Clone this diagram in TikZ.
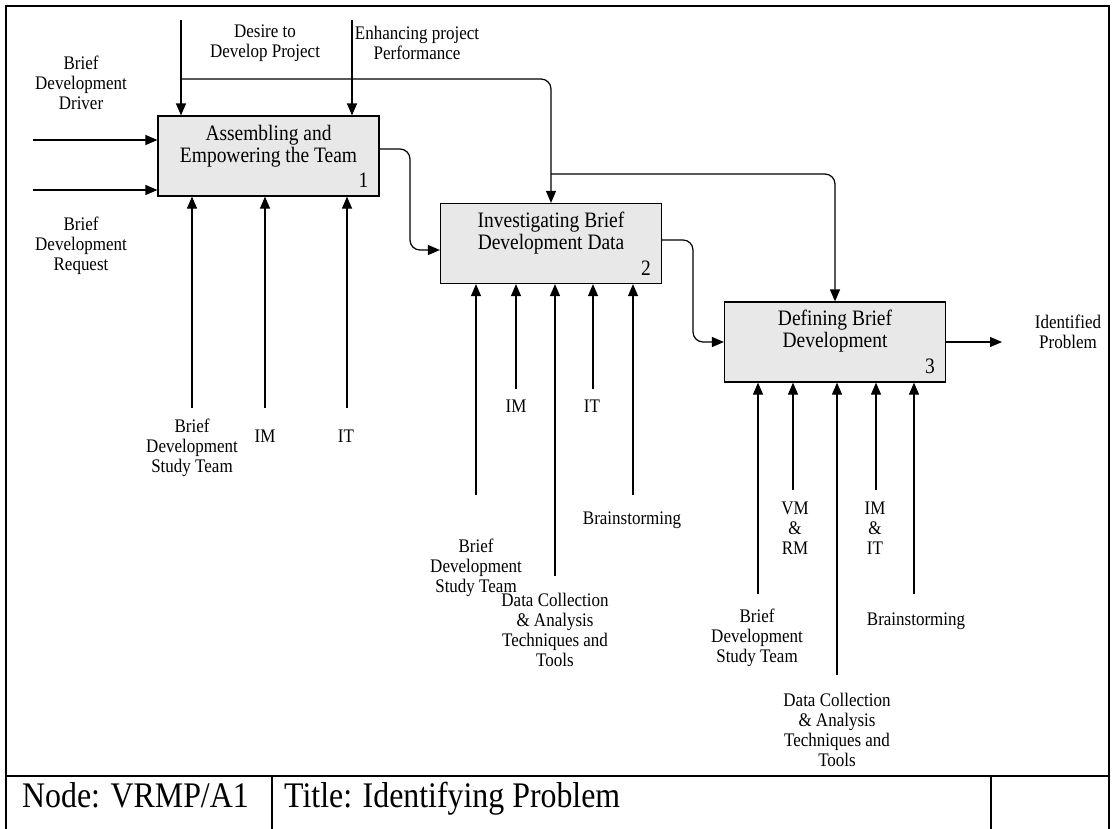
\documentclass[tikz,border=0pt]{standalone}
\usepackage{fontspec}
\setmainfont[FakeStretch=0.885]{Liberation Serif}
\usetikzlibrary{arrows.meta,calc}
\begin{document}
\begin{tikzpicture}[x=1pt,y=-1pt,
  arr/.style={-{Triangle[length=12pt,width=10pt]},line width=1.2pt},
  flow/.style={arr,rounded corners=10pt},
  actbox/.style={draw,line width=1.2pt,fill=gray!18,minimum width=221pt,minimum height=80pt,inner sep=0pt},
  acttext/.style={font=\fontsize{22}{22}\selectfont,align=center,inner sep=0pt},
  actnum/.style={font=\fontsize{22}{22}\selectfont,inner sep=0pt},
  lbl/.style={font=\fontsize{19.2}{20}\selectfont,align=center,inner sep=0pt},
  foot/.style={font=\fontsize{36}{36}\selectfont,inner sep=0pt,anchor=base west}]
\useasboundingbox (0,0) rectangle (1115,828);
% frame and footer
\draw[line width=2.2pt] (6,830) -- (6,6) -- (1109,6) -- (1109,830);
\draw[line width=2.2pt] (6,776) -- (1109,776);
\draw[line width=1.5pt] (272,776) -- (272,830);
\draw[line width=1.5pt] (991,776) -- (991,830);
\node[foot] (fnode) at (22,807) {Node: VRMP/A1};
\node[foot] (ftitle) at (284,807) {Title: Identifying Problem};

% activity boxes
\node[actbox] (b1) at (268.5,156) {};
\node[actbox] (b2) at (551,243.5) {};
\node[actbox] (b3) at (835,342) {};
\node[acttext] (t1) at (268.5,146) {Assembling and\\Empowering the Team};
\node[acttext] (t2) at (551,233) {Investigating Brief\\Development Data};
\node[acttext] (t3) at (835,331) {Defining Brief\\Development};
\node[actnum] (n1) at ($(b1.south east)+(-16,-16)$) {1};
\node[actnum] (n2) at ($(b2.south east)+(-16,-16)$) {2};
\node[actnum] (n3) at ($(b3.south east)+(-16,-16)$) {3};

% controls
\node[lbl] (c1) at (265,43) {Desire to\\Develop Project};
\node[lbl] (c2) at (417,43) {Enhancing project\\Performance};
\coordinate (c1s) at (181,20);
\coordinate (c2s) at (352,20);
\draw[arr] (c1s) -- (c1s |- b1.north);
\draw[arr] (c2s) -- (c2s |- b1.north);
\draw[flow] (181,79) -| (b2.north);
\draw[flow] (b2.north |- 0,174) -| (b3.north);

% inputs
\node[lbl] (i1) at (81,83) {Brief\\Development\\Driver};
\node[lbl] (i2) at (81,246) {Brief\\Development\\Request};
\coordinate (i1s) at (33,140);
\coordinate (i2s) at (33,190);
\draw[arr] (i1s) -- (i1s -| b1.west);
\draw[arr] (i2s) -- (i2s -| b1.west);

% flows between activities
\draw[flow] ($(b1.east)+(0,-7)$) -- (410,149) -- (410,250) -- (b2.west |- 0,250);
\draw[flow] ($(b2.east)+(0,-3.5)$) -- (693,240) -- (693,342) -- (b3.west);
\draw[arr] (b3.east) -- (1002,342);
\node[lbl] (o1) at (1068,332) {Identified\\Problem};

% mechanisms of activity 1
\coordinate (m11) at (192,408);
\coordinate (m12) at (265,408);
\coordinate (m13) at (347,408);
\foreach \m in {m11,m12,m13} \draw[arr] (\m) -- (\m |- b1.south);
\node[lbl] (l11) at (192,448) {Brief\\Development\\Study Team};
\node[lbl] (l12) at (265,436) {IM};
\node[lbl] (l13) at (346,436) {IT};

% mechanisms of activity 2
\coordinate (m21) at (476,495);
\coordinate (m22) at (516,389);
\coordinate (m23) at (555,576);
\coordinate (m24) at (593,389);
\coordinate (m25) at (633,495);
\foreach \m in {m21,m22,m23,m24,m25} \draw[arr] (\m) -- (\m |- b2.south);
\node[lbl] (l21) at (476,568) {Brief\\Development\\Study Team};
\node[lbl] (l22) at (516,406) {IM};
\node[lbl] (l23) at (555,630) {Data Collection\\\& Analysis\\Techniques and\\Tools};
\node[lbl] (l24) at (592,406) {IT};
\node[lbl] (l25) at (632,520) {Brainstorming};

% mechanisms of activity 3
\coordinate (m31) at (758,594);
\coordinate (m32) at (793,490);
\coordinate (m33) at (837,675);
\coordinate (m34) at (876,490);
\coordinate (m35) at (914,594);
\foreach \m in {m31,m32,m33,m34,m35} \draw[arr] (\m) -- (\m |- b3.south);
\node[lbl] (l31) at (757,638) {Brief\\Development\\Study Team};
\node[lbl] (l32) at (795,528) {VM\\\&\\RM};
\node[lbl] (l33) at (837,730) {Data Collection\\\& Analysis\\Techniques and\\Tools};
\node[lbl] (l34) at (875,528) {IM\\\&\\IT};
\node[lbl] (l35) at (916,621) {Brainstorming};
\end{tikzpicture}
\end{document}
